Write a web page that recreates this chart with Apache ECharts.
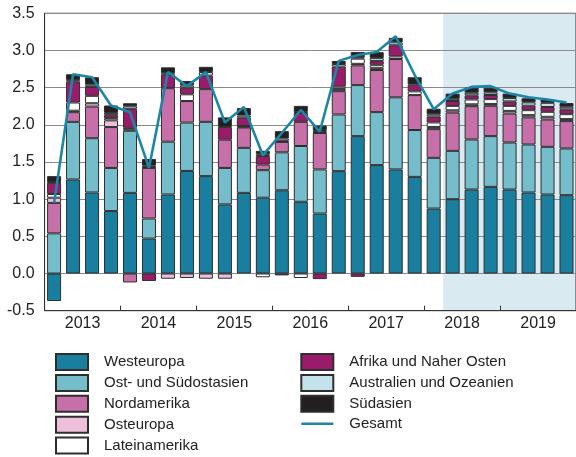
<!DOCTYPE html>
<html>
<head>
<meta charset="utf-8">
<script src="https://cdn.jsdelivr.net/npm/echarts@6/dist/echarts.min.js"></script>
<style>
html,body{margin:0;padding:0;background:#fff;}
#c{width:576px;height:457px;}
</style>
</head>
<body>
<div id="c"></div>
<script>
var quarters = ['2013Q1','2013Q2','2013Q3','2013Q4','2014Q1','2014Q2','2014Q3','2014Q4',
  '2015Q1','2015Q2','2015Q3','2015Q4','2016Q1','2016Q2','2016Q3','2016Q4',
  '2017Q1','2017Q2','2017Q3','2017Q4','2018Q1','2018Q2','2018Q3','2018Q4',
  '2019Q1','2019Q2','2019Q3','2019Q4'];
var years = ['2013','2014','2015','2016','2017','2018','2019'];
var yTicks = [-0.5, 0, 0.5, 1, 1.5, 2, 2.5, 3, 3.5];

var westeuropa  = [-0.37,1.265,1.09,0.84,1.085,0.47,1.063,1.38,1.31,0.93,1.085,1.02,1.12,0.965,0.807,1.377,1.848,1.458,1.40,1.30,0.874,1.0,1.13,1.166,1.13,1.09,1.063,1.054];
var ostasien    = [0.54,0.775,0.73,0.58,0.835,0.27,0.71,0.65,0.73,0.49,0.605,0.37,0.51,0.75,0.593,0.762,0.686,0.713,0.97,0.63,0.682,0.65,0.673,0.682,0.632,0.645,0.641,0.628];
var nordamerika = [0.41,0.13,0.425,0.55,-0.12,0.68,0.72,0.29,0.44,0.38,0.275,0.075,0.14,0.325,0.49,0.314,0.266,0.566,0.515,0.47,0.386,0.515,0.448,0.408,0.39,0.365,0.368,0.368];
var osteuropa   = [0.07,0.02,0.045,0.09,0.02,null,-0.07,-0.06,-0.07,-0.07,0.01,null,null,null,0.01,0.03,0.02,0.03,null,null,0.03,0.03,0.025,0.025,0.036,0.03,0.036,0.027];
var lateinamerika = [0.05,0.11,0.10,0.03,0.02,0.01,null,0.09,null,null,0.01,-0.05,0.01,-0.06,0.01,0.03,0.07,0.04,0.035,0.05,0.06,0.06,0.065,0.065,0.067,0.067,0.067,0.066];
var afrika      = [0.15,0.28,0.12,0.04,0.255,-0.10,0.18,0.09,0.18,0.17,0.11,0.115,-0.025,0.12,-0.075,0.27,-0.045,0.05,0.15,0.09,0.08,0.065,0.055,0.055,0.06,0.06,0.065,0.065];
var australien  = [0.01,0.02,0.03,0.03,0.035,0.02,0.02,0.03,0.05,null,0.03,0.025,0.035,0.01,0.02,0.035,0.02,0.04,0.04,null,0.03,0.03,0.035,0.035,0.045,0.045,0.056,0.035];
var suedasien   = [0.08,0.08,0.10,0.10,0.04,0.09,0.08,0.06,0.07,0.13,0.10,0.045,0.10,0.085,0.06,0.04,0.07,0.08,0.06,0.10,0.075,0.07,0.07,0.065,0.06,0.055,0.045,0.05];
var gesamt      = [0.95,2.68,2.64,2.26,2.17,1.42,2.71,2.52,2.71,2.03,2.24,1.59,1.89,2.20,1.91,2.86,2.94,2.98,3.19,2.67,2.21,2.42,2.51,2.52,2.42,2.37,2.34,2.30];
var forecastStart = 21; // index of first forecast quarter (2018Q2)

var names = ['Westeuropa','Ost- und Südostasien','Nordamerika','Osteuropa','Lateinamerika',
             'Afrika und Naher Osten','Australien und Ozeanien','Südasien'];
var values = [westeuropa, ostasien, nordamerika, osteuropa, lateinamerika, afrika, australien, suedasien];
var colors = ['#1a7f9e','#76bdcc','#c76fa8','#edc0d9','#ffffff','#9b1b6b','#c4e2ea','#231f20'];

var FONT = 'Liberation Sans, Arial, Helvetica, sans-serif';

var series = names.map(function (n, i) {
  return {
    name: n, type: 'bar', stack: 'total', xAxisIndex: 0, yAxisIndex: 0,
    barWidth: 14, z: 2,
    itemStyle: { color: colors[i], borderColor: '#2e2e2e', borderWidth: 1 },
    data: values[i]
  };
});
series.push({
  name: 'Gesamt', type: 'line', xAxisIndex: 0, yAxisIndex: 0,
  symbol: 'none', z: 5,
  lineStyle: { color: '#1d86a6', width: 2.6 },
  itemStyle: { color: '#1d86a6' },
  data: gesamt
});
series.push({
  name: 'shade', type: 'line', xAxisIndex: 2, yAxisIndex: 0, data: [],
  silent: true, z: 0,
  markArea: {
    silent: true, z: -1,
    itemStyle: { color: '#d9eaf1' },
    data: [[{ xAxis: forecastStart, yAxis: yTicks[0] }, { xAxis: quarters.length, yAxis: yTicks[yTicks.length - 1] }]]
  }
});

function legendItems(list) {
  return list.map(function (n) {
    return n === 'Gesamt'
      ? { name: n, itemStyle: { color: 'rgba(0,0,0,0)', borderColor: 'rgba(0,0,0,0)', borderWidth: 0, opacity: 0 } }
      : { name: n, icon: 'rect' };
  });
}

var legendCommon = {
  orient: 'vertical', itemWidth: 32, itemHeight: 16, itemGap: 2.9, padding: 0, height: 120,
  selectedMode: false,
  lineStyle: { width: 2.6 },
  textStyle: { fontFamily: FONT, fontSize: 15, color: '#222', lineHeight: 16, padding: [0, 0, 0, 11] }
};

var option = {
  animation: false,
  backgroundColor: '#fff',
  grid: { left: 44.6, top: 13.3, width: 539.8, height: 297.4, show: true, z: 1,
          borderColor: '#333', borderWidth: 1, backgroundColor: 'transparent' },
  legend: [
    Object.assign({}, legendCommon, { left: 55, top: 353, data: legendItems(names.slice(0, 5)) }),
    Object.assign({}, legendCommon, { left: 300, top: 353, data: legendItems(names.slice(5).concat(['Gesamt'])) })
  ],
  xAxis: [
    { type: 'category', data: quarters, show: false, boundaryGap: true, position: 'bottom' },
    { type: 'category', data: years, boundaryGap: true, position: 'bottom', z: 1,
      axisLine: { onZero: false, lineStyle: { color: '#333', width: 1 } },
      axisTick: { show: true, inside: true, length: 5, interval: 0, lineStyle: { color: '#333' } },
      axisLabel: { fontFamily: FONT, fontSize: 16, color: '#222', margin: 5, interval: 0 },
      splitLine: { show: false } },
    { type: 'value', min: 0, max: quarters.length, show: false }
  ],
  yAxis: [{
    type: 'value', min: yTicks[0], max: yTicks[yTicks.length - 1], interval: 0.5, z: 1,
    axisLine: { show: true, lineStyle: { color: '#333', width: 1 } },
    axisTick: { show: false },
    axisLabel: { fontFamily: FONT, fontSize: 16, color: '#222', margin: 10,
                 formatter: function (v) { return v.toFixed(1); } },
    splitLine: { show: true, lineStyle: { color: '#8a8a8a', width: 1 } }
  }],
  series: series
};

var chart = echarts.init(document.getElementById('c'), null, { renderer: 'canvas' });
chart.setOption(option);
</script>
</body>
</html>
